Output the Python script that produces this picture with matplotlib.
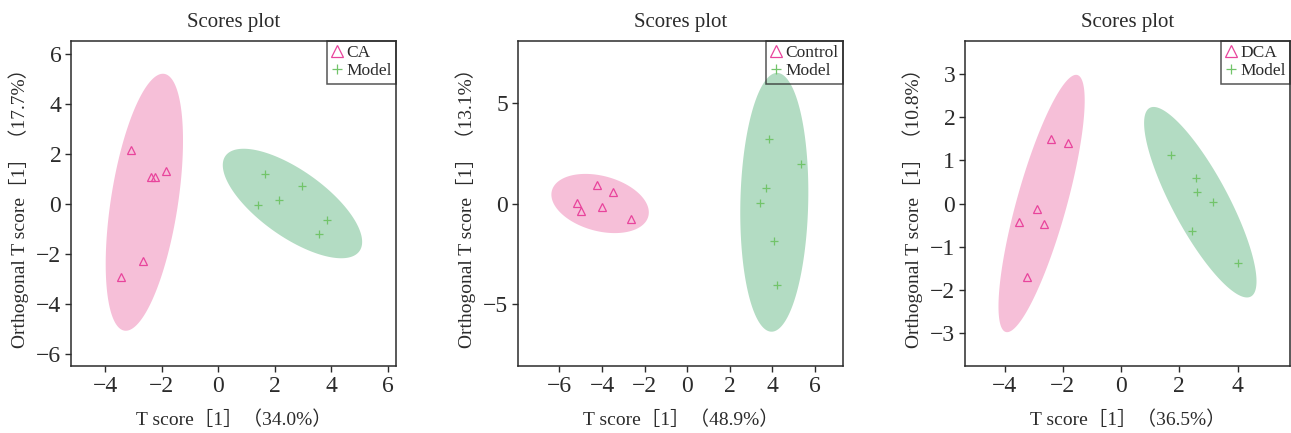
import matplotlib
matplotlib.use('Agg')
import matplotlib.pyplot as plt
import numpy as np

plt.rcParams['font.family'] = ['Liberation Serif', 'Noto Sans CJK SC', 'DejaVu Sans']
plt.rcParams['axes.unicode_minus'] = True

# ------------------------------------------------------------
# data (T score, orthogonal T score)
# ------------------------------------------------------------
group_names = ['CA', 'Control', 'DCA']
x_labels = ['T score［1］（34.0%）', 'T score［1］（48.9%）', 'T score［1］（36.5%）']
y_labels = ['Orthogonal T score［1］（17.7%）', 'Orthogonal T score［1］（13.1%）',
            'Orthogonal T score［1］（10.8%）']

ca_x = [-3.11, -2.40, -2.23, -1.87, -2.66, -3.43]
ca_y = [2.13, 1.06, 1.06, 1.29, -2.30, -2.93]
model1_x = [1.65, 2.96, 2.14, 1.42, 3.87, 3.56]
model1_y = [1.18, 0.69, 0.15, -0.07, -0.65, -1.21]

control_x = [-5.17, -4.97, -4.22, -3.47, -4.02, -2.64]
control_y = [0.02, -0.35, 0.92, 0.57, -0.15, -0.78]
model2_x = [3.83, 5.36, 3.72, 3.44, 4.09, 4.23]
model2_y = [3.21, 1.96, 0.77, 0.02, -1.88, -4.07]

dca_x = [-2.41, -1.84, -2.89, -3.51, -2.64, -3.22]
dca_y = [1.49, 1.40, -0.13, -0.43, -0.48, -1.71]
model3_x = [1.70, 2.56, 2.61, 3.17, 2.45, 4.00]
model3_y = [1.12, 0.60, 0.26, 0.03, -0.64, -1.39]

# confidence ellipses: centre x, centre y, half x-extent, half y-extent, correlation
ell_group = [(-2.62, 0.05, 1.37, 5.14, 0.48),
             (-4.09, 0.00, 2.29, 1.475, -0.30),
             (-2.73, 0.00, 1.48, 2.985, 0.80)]
ell_model = [(2.63, 0.00, 2.47, 2.19, -0.70),
             (4.10, 0.06, 1.60, 6.45, 0.08),
             (2.72, 0.03, 1.93, 2.21, -0.83)]

x_lims = [(-5.22, 6.3), (-7.95, 7.33), (-5.36, 5.80)]
y_lims = [(-6.5, 6.5), (-8.1, 8.1), (-3.77, 3.77)]
x_ticks = [[-4, -2, 0, 2, 4, 6], [-6, -4, -2, 0, 2, 4, 6], [-4, -2, 0, 2, 4]]
y_ticks = [[-6, -4, -2, 0, 2, 4, 6], [-5, 0, 5], [-3, -2, -1, 0, 1, 2, 3]]

group_pts = [(ca_x, ca_y), (control_x, control_y), (dca_x, dca_y)]
model_pts = [(model1_x, model1_y), (model2_x, model2_y), (model3_x, model3_y)]

pink_fill = '#f6bfd8'
green_fill = '#b3dcc3'
pink_mk = '#e8449c'
green_mk = '#72c46a'
dark = '#2b2b2b'


def ellipse_xy(cx, cy, sx, sy, r):
    t = np.linspace(0, 2 * np.pi, 300)
    x = cx + sx * np.cos(t)
    y = cy + sy * (r * np.cos(t) + np.sqrt(1 - r * r) * np.sin(t))
    return x, y


fig = plt.figure(figsize=(12.91, 4.33), dpi=100)
lefts = [71 / 1291, 518 / 1291, 965 / 1291]
for i in range(3):
    ax = fig.add_axes([lefts[i], 67 / 433, 325 / 1291, 325 / 433])

    ex, ey = ellipse_xy(*ell_group[i])
    ax.fill(ex, ey, color=pink_fill, lw=0, zorder=1)
    ex, ey = ellipse_xy(*ell_model[i])
    ax.fill(ex, ey, color=green_fill, lw=0, zorder=1)

    gx, gy = group_pts[i]
    mx, my = model_pts[i]
    ax.plot(gx, gy, ls='none', marker='^', ms=5.5, mfc='none', mec=pink_mk,
            mew=0.9, zorder=3, label=group_names[i])
    ax.plot(mx, my, ls='none', marker='+', ms=6, mec=green_mk,
            mew=0.9, zorder=3, label='Model')

    ax.set_xlim(*x_lims[i])
    ax.set_ylim(*y_lims[i])
    ax.set_xticks(x_ticks[i])
    ax.set_yticks(y_ticks[i])
    ax.tick_params(direction='out', length=4, width=1, colors=dark,
                   labelsize=17, pad=3)
    for sp in ax.spines.values():
        sp.set_color(dark)
        sp.set_linewidth(1.1)

    ax.set_title('Scores plot', fontsize=15, color=dark, pad=10)
    ax.set_xlabel(x_labels[i], fontsize=14, color=dark, labelpad=10)
    ax.set_ylabel(y_labels[i], fontsize=14, color=dark, labelpad=5)

    leg = ax.legend(loc='upper right', borderaxespad=0, fontsize=12.5,
                    handlelength=0.6, handletextpad=0.25, borderpad=0.25,
                    labelspacing=0.1, fancybox=False)
    leg.get_frame().set_facecolor('none')
    leg.get_frame().set_edgecolor(dark)
    leg.get_frame().set_linewidth(1.1)
    handles = leg.legend_handles
    handles[0].set_markersize(9)
    handles[1].set_markersize(6.5)
    for t in leg.get_texts():
        t.set_color(dark)

plt.savefig('out.png', dpi=100, facecolor='white')
plt.close()
print('Done')
